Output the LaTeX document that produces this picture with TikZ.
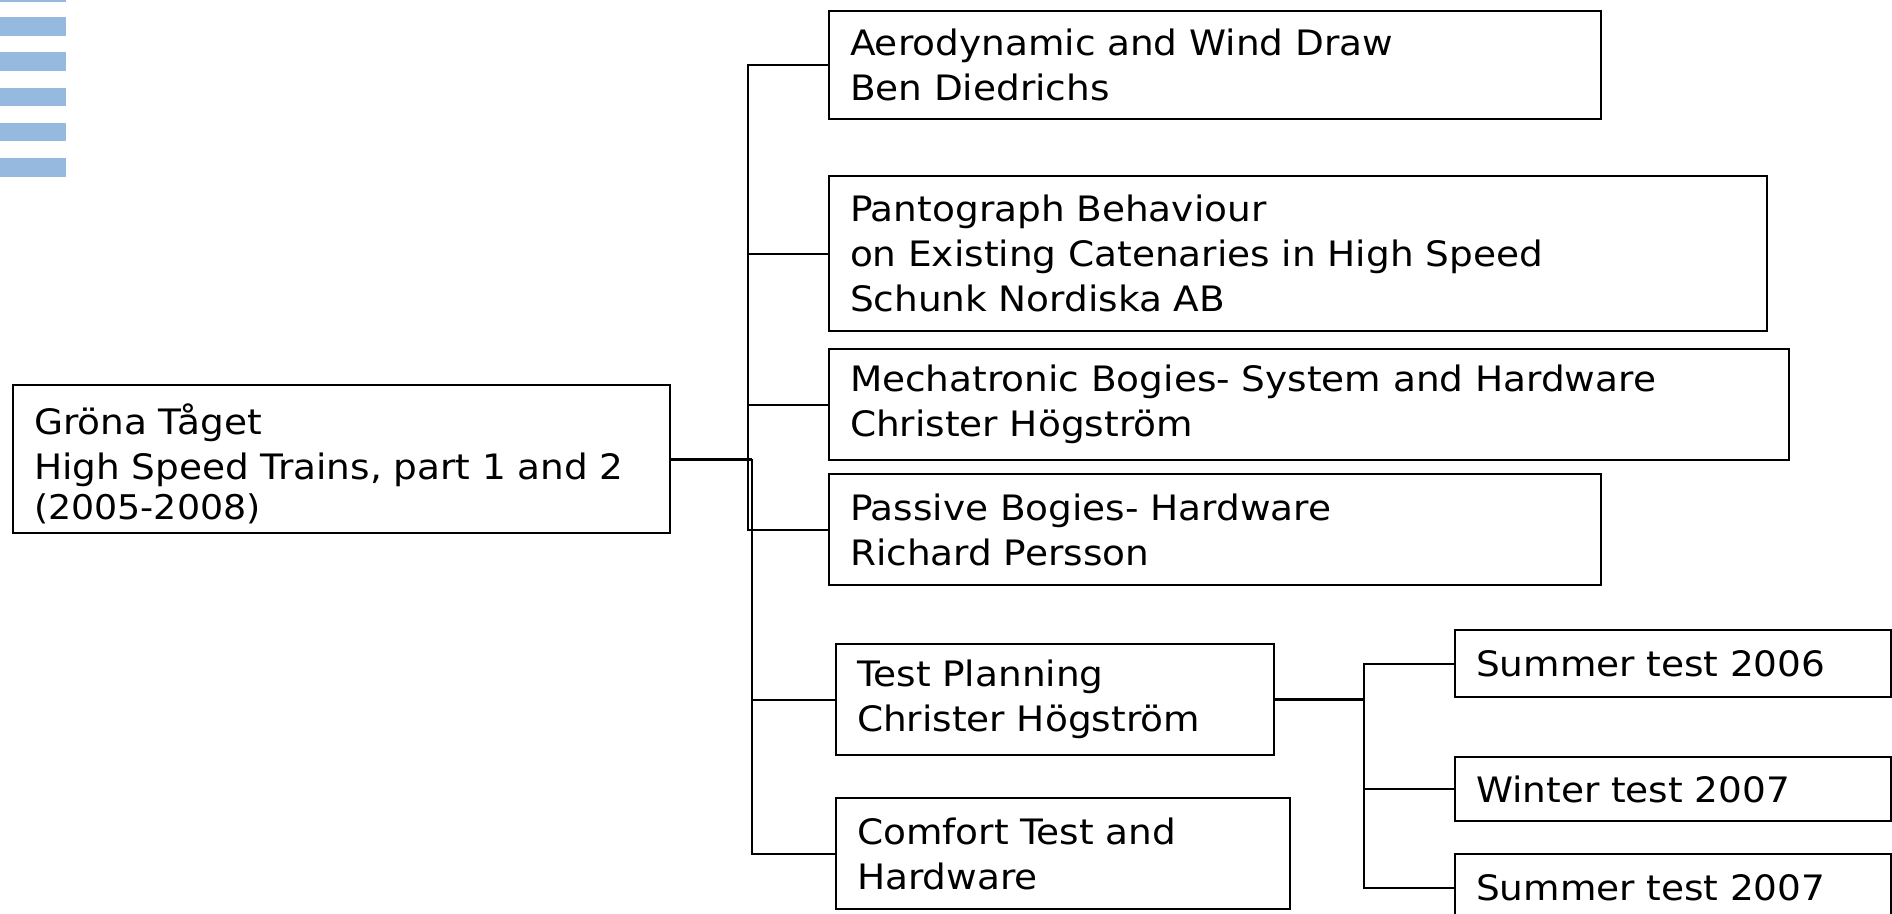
\documentclass[tikz,border=0pt]{standalone}
\usepackage{fontspec}
\setmainfont{DejaVu Sans}[FakeStretch=1.07]
\definecolor{stripeblue}{RGB}{149,185,223}
\tikzset{
  box/.style={draw=black, line width=2pt, anchor=north west, align=left,
    inner xsep=21pt, inner ysep=0pt, font=\fontsize{35}{45}\selectfont},
  conn/.style={draw=black, line width=2pt},
  thickconn/.style={draw=black, line width=3pt},
  stripe/.style={fill=stripeblue}
}
\begin{document}
\begin{tikzpicture}[x=1pt,y=-1pt]
\useasboundingbox (0,0) rectangle (1892,913);
\clip (0,0) rectangle (1892,913);
% stripes
\fill[stripe] (0,0) rectangle (66,1.5);
\fill[stripe] (0,17) rectangle (66,36);
\fill[stripe] (0,52) rectangle (66,71);
\fill[stripe] (0,88) rectangle (66,106);
\fill[stripe] (0,123) rectangle (66,141);
\fill[stripe] (0,158) rectangle (66,177);
% boxes
\node[box, text width=615pt, minimum height=148pt] (root) at (12,384)
  {\rule{0pt}{41pt}Gröna Tåget\\High Speed Trains, part 1 and 2\\[-5pt]{\fontsize{34}{40}\selectfont (2005-2008)}};
\node[box, text width=730pt, minimum height=108pt] (aero) at (828,10)
  {Aerodynamic and Wind Draw\\Ben Diedrichs};
\node[box, text width=896pt, minimum height=155pt] (pant) at (828,175)
  {Pantograph Behaviour\\on Existing Catenaries in High Speed\\Schunk Nordiska AB};
\node[box, text width=918pt, minimum height=111pt] (mech) at (828,348)
  {Mechatronic Bogies- System and Hardware\\Christer Högström};
\node[box, text width=730pt, minimum height=111pt] (pass) at (828,473)
  {Passive Bogies- Hardware\\Richard Persson};
\node[box, text width=396pt, minimum height=111pt] (test) at (835,643)
  {Test Planning\\Christer Högström};
\node[box, text width=412pt, minimum height=111pt] (comf) at (835,797)
  {Comfort Test and\\Hardware};
\node[box, text width=394pt, minimum height=67pt] (s06) at (1454,629)
  {Summer test 2006};
\node[box, text width=394pt, minimum height=64pt] (w07) at (1454,756)
  {Winter test 2007};
\node[box, text width=394pt, minimum height=67pt] (s07) at (1454,853)
  {Summer test 2007};
% trunk coordinates
\coordinate (trunkA) at (748,0);
\coordinate (trunkB) at (752,0);
\coordinate (trunkC) at (1364,0);
% connectors
\draw[conn] (aero.west) -| (trunkA |- pass.west) -- (pass.west);
\draw[conn] (pant.west) -- (pant.west -| trunkA);
\draw[conn] (mech.west) -- (mech.west -| trunkA);
\draw[thickconn] (root.east) -- (root.east -| trunkB);
\draw[conn] (root.east -| trunkB) |- (comf.west);
\draw[conn] (test.west) -- (test.west -| trunkB);
\draw[thickconn] (test.east) -- (test.east -| trunkC);
\draw[conn] (s06.west) -| (trunkC |- s07.west) -- (s07.west);
\draw[conn] (w07.west) -- (w07.west -| trunkC);
\end{tikzpicture}
\end{document}
